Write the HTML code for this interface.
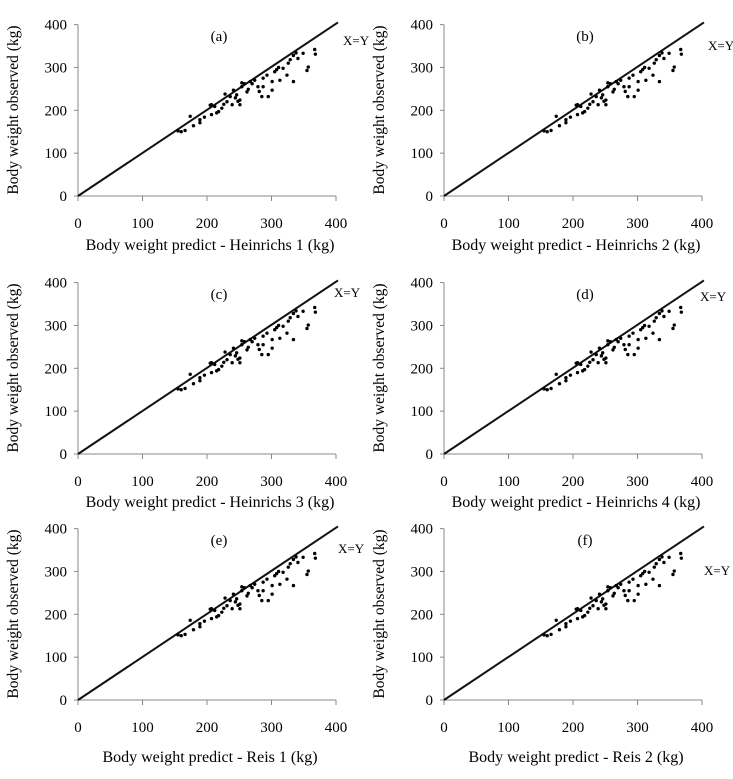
<!DOCTYPE html>
<html><head><meta charset="utf-8"><style>
body{margin:0;background:#fff;width:733px;height:774px;overflow:hidden}
svg{font-family:"Liberation Serif",serif}
</style></head><body>
<svg id="s" width="733" height="774" xmlns="http://www.w3.org/2000/svg"></svg>
<script>
const xTicks=[0,100,200,300,400];
const yTicks=[0,100,200,300,400];
const obsX=[155,166,174,179,189,189,207,207,215,212,223,231,239,244,251,251,254,254,246,262,267,274,279,285,295,287,293,301,308,313,318,324,334,326,334,341,349,357,367,241,301,287,160,196,205,218,228,236,258,264,270,281,305,311,329,338,355,368,226,248];
const obsY=[152,153,186,164,178,171,213,190,194,209,205,220,213,229,224,213,264,255,236,243,267,270,255,232,232,275,282,267,295,270,298,282,267,310,328,321,333,301,342,247,247,255,150,184,212,197,238,232,262,249,262,244,290,300,318,334,293,331,214,221];
const panels=[
 {lab:"(a)",xl:"Body weight predict - Heinrichs 1 (kg)",ox:78,oy:196,lx:343,ly:45,xly:250},
 {lab:"(b)",xl:"Body weight predict - Heinrichs 2 (kg)",ox:444,oy:196,lx:708,ly:50,xly:250},
 {lab:"(c)",xl:"Body weight predict - Heinrichs 3 (kg)",ox:78,oy:454,lx:334,ly:297,xly:507},
 {lab:"(d)",xl:"Body weight predict - Heinrichs 4 (kg)",ox:444,oy:454,lx:700,ly:301,xly:507},
 {lab:"(e)",xl:"Body weight predict - Reis 1 (kg)",ox:78,oy:700,lx:338,ly:553,xly:762},
 {lab:"(f)",xl:"Body weight predict - Reis 2 (kg)",ox:444,oy:700,lx:704,ly:575,xly:762}];
const S=document.getElementById('s');const NS="http://www.w3.org/2000/svg";
function mk(t,a,p){const e=document.createElementNS(NS,t);for(const k in a)e.setAttribute(k,a[k]);(p||S).appendChild(e);return e;}
panels.forEach((p,i)=>{
 const g=mk('g',{});
 
 
 const xs=v=>p.ox+v*0.645, ys=v=>p.oy-v*0.4285;
 const ax=mk('line',{x1:p.ox,y1:ys(0),x2:p.ox,y2:ys(400),stroke:'#888','stroke-width':1},g);
 
 const bx=mk('line',{x1:p.ox,y1:p.oy,x2:xs(400),y2:p.oy,stroke:'#888','stroke-width':1},g);
 
 yTicks.forEach(v=>{mk('line',{x1:p.ox-4,x2:p.ox,y1:ys(v),y2:ys(v),stroke:'#888'},g);
  const t=mk('text',{x:p.ox-11,y:ys(v)+5,'text-anchor':'end','font-size':15},g);t.textContent=v;
  });
 xTicks.forEach(v=>{mk('line',{x1:xs(v),x2:xs(v),y1:p.oy,y2:p.oy+5,stroke:'#888'},g);
  const t=mk('text',{x:xs(v),y:p.oy+32,'text-anchor':'middle','font-size':15},g);t.textContent=v;
  });
 const ln=mk('line',{x1:xs(0),y1:ys(0),x2:xs(403),y2:ys(405),stroke:'#111','stroke-width':2},g);
 
 obsX.forEach((v,k)=>{const c=mk('circle',{cx:xs(v),cy:ys(obsY[k]),r:1.7,fill:'#000'},g);
  });
 const lb=mk('text',{x:p.ox+141,y:p.oy-155,'font-size':15,'text-anchor':'middle'},g);lb.textContent=p.lab;
 
 const xy=mk('text',{x:p.lx,y:p.ly,'font-size':13},g);xy.textContent="X=Y";
 
 const xt=mk('text',{x:p.ox+132,y:p.xly,'font-size':16,'text-anchor':'middle'},g);xt.textContent=p.xl;
 
 const cy=p.oy-86;
 const yt=mk('text',{x:p.ox-60,y:cy,'font-size':15.5,'text-anchor':'middle',transform:`rotate(-90 ${p.ox-60} ${cy})`},g);yt.textContent="Body weight observed (kg)";
 
});
</script>
</body></html>
